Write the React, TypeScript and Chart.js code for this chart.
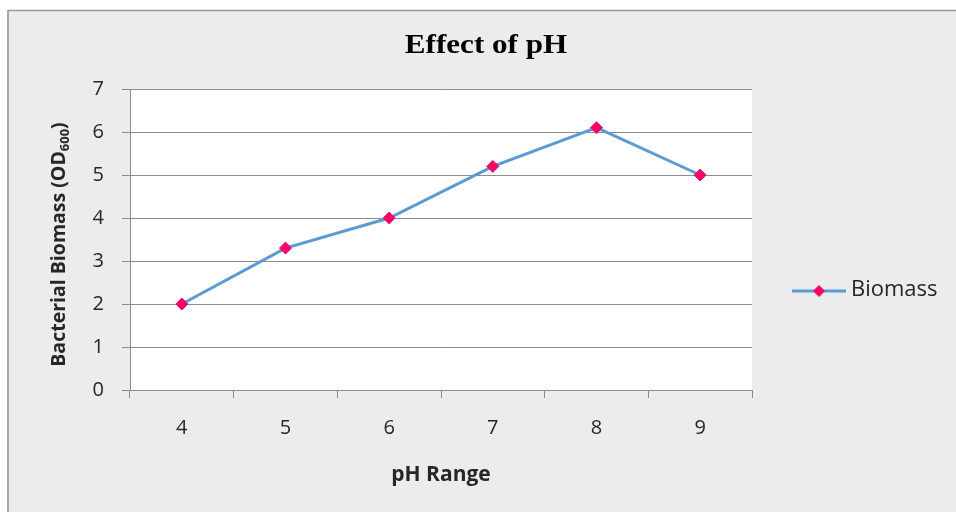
import React, { useEffect, useRef } from 'react';
import { Chart, registerables } from 'chart.js';

Chart.register(...registerables);

// ---- data ----
const phLevels = ['4', '5', '6', '7', '8', '9'];
const biomassOD = [2.0, 3.3, 4.0, 5.2, 6.1, 5.0];
const yMin = 0;
const yMax = 7;
const yStep = 1;
const chartTitle = 'Effect of pH';
const xTitle = 'pH Range';
const yTitleMain = 'Bacterial Biomass (OD';
const yTitleSub = '600';
const yTitleEnd = ')';
const seriesName = 'Biomass';

// ---- styles ----
const LINE = '#5B9BD5';
const MARK = '#FF0066';
const MARK_BORDER = '#E0106E';
const GRID = '#8C8C8C';
const TEXT = '#262626';
const FONT = '"Open Sans", "Noto Sans", sans-serif';
const SERIF = '"Liberation Serif", "Times New Roman", serif';

const framePlugin = {
  id: 'frame',
  beforeDraw(chart: any) {
    const { ctx, width, height, chartArea } = chart;
    ctx.save();
    ctx.fillStyle = '#ffffff';
    ctx.fillRect(0, 0, width, height);
    ctx.fillStyle = '#ECECEC';
    ctx.fillRect(8, 10, width - 8, height - 10);
    ctx.strokeStyle = '#A8A8A8';
    ctx.lineWidth = 2;
    ctx.beginPath();
    ctx.moveTo(8, height);
    ctx.lineTo(8, 10);
    ctx.stroke();
    ctx.strokeStyle = '#979797';
    ctx.lineWidth = 1.5;
    ctx.beginPath();
    ctx.moveTo(8, 10.5);
    ctx.lineTo(width, 10.5);
    ctx.stroke();
    ctx.fillStyle = '#ffffff';
    ctx.fillRect(chartArea.left, chartArea.top, chartArea.right - chartArea.left, chartArea.bottom - chartArea.top);
    ctx.restore();
  },
};

const drawDiamond = (ctx: CanvasRenderingContext2D, x: number, y: number, r: number) => {
  ctx.beginPath();
  ctx.moveTo(x, y - r);
  ctx.lineTo(x + r, y);
  ctx.lineTo(x, y + r);
  ctx.lineTo(x - r, y);
  ctx.closePath();
  ctx.fillStyle = MARK;
  ctx.fill();
  ctx.strokeStyle = MARK_BORDER;
  ctx.lineWidth = 1;
  ctx.stroke();
};

const annotationsPlugin = {
  id: 'annotations',
  afterDraw(chart: any) {
    const { ctx, chartArea, width } = chart;

    // Chart title, centred on the frame
    ctx.save();
    ctx.translate((8 + width) / 2 + 4, chartArea.top - 36);
    ctx.scale(1.11, 1);
    ctx.font = `bold 28px ${SERIF}`;
    ctx.fillStyle = '#000';
    ctx.textAlign = 'center';
    ctx.textBaseline = 'alphabetic';
    ctx.fillText(chartTitle, 0, 0);
    ctx.restore();

    // Y axis title with subscript
    ctx.save();
    const cx = chartArea.left - 72;
    const cy = (chartArea.top + chartArea.bottom) / 2 + 5;
    ctx.translate(cx, cy);
    ctx.rotate(-Math.PI / 2);
    const mainFont = `bold 19.5px ${FONT}`;
    const subFont = `bold 13px ${FONT}`;
    ctx.font = mainFont;
    const w1 = ctx.measureText(yTitleMain).width;
    const w3 = ctx.measureText(yTitleEnd).width;
    ctx.font = subFont;
    const w2 = ctx.measureText(yTitleSub).width;
    const total = w1 + w2 + w3;
    let x = -total / 2;
    ctx.fillStyle = TEXT;
    ctx.textBaseline = 'alphabetic';
    ctx.textAlign = 'left';
    const base = 7;
    ctx.font = mainFont;
    ctx.fillText(yTitleMain, x, base);
    x += w1;
    ctx.font = subFont;
    ctx.fillText(yTitleSub, x, base + 4);
    x += w2;
    ctx.font = mainFont;
    ctx.fillText(yTitleEnd, x, base);
    ctx.restore();

    // Legend
    ctx.save();
    const lx = chartArea.right + 40;
    const ly = chartArea.bottom - 99;
    ctx.strokeStyle = LINE;
    ctx.lineWidth = 3;
    ctx.beginPath();
    ctx.moveTo(lx, ly);
    ctx.lineTo(lx + 54, ly);
    ctx.stroke();
    drawDiamond(ctx, lx + 27, ly, 5.5);
    ctx.fillStyle = TEXT;
    ctx.font = `22px ${FONT}`;
    ctx.textBaseline = 'middle';
    ctx.textAlign = 'left';
    ctx.fillText(seriesName, lx + 59, ly - 1);
    ctx.restore();
  },
};

export default function App() {
  const canvasRef = useRef<HTMLCanvasElement | null>(null);

  useEffect(() => {
    if (!canvasRef.current) return;
    const chart = new Chart(canvasRef.current, {
      type: 'line',
      data: {
        labels: phLevels,
        datasets: [
          {
            label: seriesName,
            data: biomassOD,
            borderColor: LINE,
            borderWidth: 3,
            tension: 0,
            fill: false,
            pointStyle: 'rectRot',
            pointRadius: 6,
            pointBackgroundColor: MARK,
            pointBorderColor: MARK_BORDER,
            pointBorderWidth: 1,
          },
        ],
      },
      options: {
        responsive: false,
        animation: false,
        layout: { padding: { left: 0, right: 204, top: 89, bottom: 0 } },
        plugins: {
          legend: { display: false },
          tooltip: { enabled: false },
          title: { display: false },
        },
        scales: {
          x: {
            type: 'category',
            offset: true,
            grid: {
              display: true,
              offset: true,
              drawOnChartArea: false,
              drawTicks: true,
              tickLength: 8,
              color: GRID,
            },
            border: { display: true, color: GRID },
            ticks: { font: { family: FONT, size: 20 }, color: TEXT, padding: 18, maxRotation: 0 },
            title: {
              display: true,
              text: xTitle,
              color: TEXT,
              font: { family: FONT, size: 21, weight: 'bold' },
              padding: { top: 0, bottom: 24 },
            },
            afterFit: (s: any) => {
              s.height = 122;
            },
          },
          y: {
            min: yMin,
            max: yMax,
            ticks: { stepSize: yStep, font: { family: FONT, size: 20 }, color: TEXT, padding: 18 },
            grid: { color: GRID, tickLength: 8, lineWidth: 1 },
            border: { display: true, color: GRID },
            afterFit: (s: any) => {
              s.width = 130;
            },
          },
        },
      },
      plugins: [framePlugin, annotationsPlugin],
    });
    return () => chart.destroy();
  }, []);

  return (
    <canvas
      ref={canvasRef}
      width={956}
      height={512}
      style={{ position: 'fixed', left: 0, top: 0, width: 956, height: 512 }}
    />
  );
}
